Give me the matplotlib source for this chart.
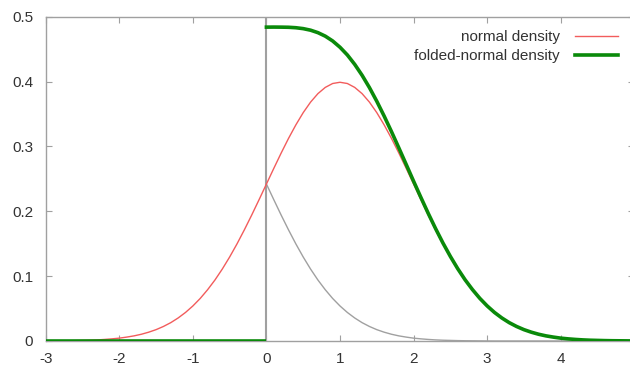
import matplotlib
matplotlib.use("Agg")
import matplotlib.pyplot as plt

# values, x step 0.1
x_normal = [round(-3 + 0.1 * i, 1) for i in range(81)]
normal_density = [
    0.0001, 0.0002, 0.0003, 0.0004, 0.0006, 0.0009, 0.0012, 0.0017, 0.0024, 0.0033,
    0.0044, 0.0060, 0.0079, 0.0104, 0.0136, 0.0175, 0.0224, 0.0283, 0.0355, 0.0440,
    0.0540, 0.0656, 0.0790, 0.0940, 0.1109, 0.1295, 0.1497, 0.1714, 0.1942, 0.2179,
    0.2420, 0.2661, 0.2897, 0.3123, 0.3332, 0.3521, 0.3683, 0.3814, 0.3910, 0.3970,
    0.3989,
    0.3970, 0.3910, 0.3814, 0.3683, 0.3521, 0.3332, 0.3123, 0.2897, 0.2661, 0.2420,
    0.2179, 0.1942, 0.1714, 0.1497, 0.1295, 0.1109, 0.0940, 0.0790, 0.0656, 0.0540,
    0.0440, 0.0355, 0.0283, 0.0224, 0.0175, 0.0136, 0.0104, 0.0079, 0.0060, 0.0044,
    0.0033, 0.0024, 0.0017, 0.0012, 0.0009, 0.0006, 0.0004, 0.0003, 0.0002, 0.0001,
]

x_neg = [-3.0, 0.0]
folded_neg = [0.0, 0.0]

x_pos = [round(0.1 * i, 1) for i in range(51)]
folded_pos = [
    0.4839, 0.4840, 0.4839, 0.4837, 0.4830, 0.4816, 0.4792, 0.4754, 0.4700, 0.4626,
    0.4529, 0.4410, 0.4265, 0.4097, 0.3907, 0.3696, 0.3468, 0.3227, 0.2976, 0.2721,
    0.2464, 0.2212, 0.1966, 0.1731, 0.1509, 0.1304, 0.1115, 0.0944, 0.0793, 0.0658,
    0.0541, 0.0440, 0.0355, 0.0283, 0.0224, 0.0175, 0.0136, 0.0104, 0.0079, 0.0060,
    0.0044, 0.0033, 0.0024, 0.0017, 0.0012, 0.0009, 0.0006, 0.0004, 0.0003, 0.0002,
    0.0001,
]
reflected = [
    0.2420, 0.2179, 0.1942, 0.1714, 0.1497, 0.1295, 0.1109, 0.0940, 0.0790, 0.0656,
    0.0540, 0.0440, 0.0355, 0.0283, 0.0224, 0.0175, 0.0136, 0.0104, 0.0079, 0.0060,
    0.0044, 0.0033, 0.0024, 0.0017, 0.0012, 0.0009, 0.0006, 0.0004, 0.0003, 0.0002,
    0.0001, 0.0, 0.0, 0.0, 0.0, 0.0, 0.0, 0.0, 0.0, 0.0,
    0.0, 0.0, 0.0, 0.0, 0.0, 0.0, 0.0, 0.0, 0.0, 0.0,
    0.0,
]

x_ticks = [-3, -2, -1, 0, 1, 2, 3, 4, 5]
x_ticklabels = ["-3", "-2", "-1", "0", "1", "2", "3", "4", "5"]
y_ticks = [0, 0.1, 0.2, 0.3, 0.4, 0.5]
y_ticklabels = ["0", "0.1", "0.2", "0.3", "0.4", "0.5"]

plt.rcParams["font.family"] = ["Liberation Sans", "DejaVu Sans"]
plt.rcParams["font.size"] = 11

fig = plt.figure(figsize=(6.3, 3.67), dpi=100)
ax = fig.add_axes([45.7 / 630, 1 - 341 / 367, 588.6 / 630, 324.3 / 367])

gray = "#a0a0a0"
red = "#f25c5c"
green = "#0a8a0a"

ax.plot(x_pos, reflected, color=gray, lw=1.0, zorder=2)
ax.plot([0, 0], [0, 0.5], color=gray, lw=1.5, zorder=2)
ax.plot(x_normal, normal_density, color=red, lw=1.0, zorder=3, label="normal density")
ax.plot(x_neg, folded_neg, color=green, lw=2.6, zorder=4, solid_capstyle="butt")
ax.plot(x_pos, folded_pos, color=green, lw=2.6, zorder=4, label="folded-normal density")

ax.set_xlim(-3, 5)
ax.set_ylim(0, 0.5)
ax.set_xticks(x_ticks)
ax.set_xticklabels(x_ticklabels)
ax.set_yticks(y_ticks)
ax.set_yticklabels(y_ticklabels)
ax.tick_params(direction="in", length=4, width=0.8, color=gray, labelcolor="#333333",
               top=True, right=True, labelsize=11)
ax.tick_params(axis="x", pad=8)
ax.tick_params(axis="y", pad=9)
for side in ["left", "top", "bottom", "right"]:
    ax.spines[side].set_color(gray)
    ax.spines[side].set_linewidth(1.0)

leg = ax.legend(loc="upper right", bbox_to_anchor=(618 / 630, 1 - 30 / 367),
                bbox_transform=fig.transFigure, frameon=False, markerfirst=False,
                handlelength=2.8, handletextpad=1.0, borderaxespad=0, borderpad=0,
                labelspacing=0.33, fontsize=11)
for t in leg.get_texts():
    t.set_color("#333333")

fig.savefig("out.png", dpi=100)
